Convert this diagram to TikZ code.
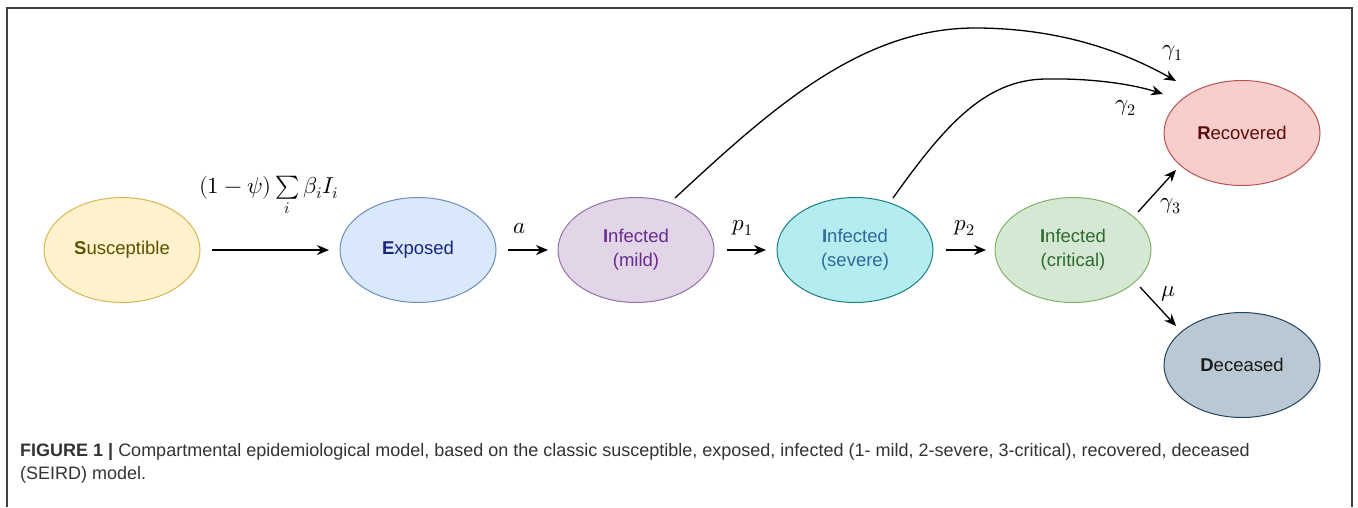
\documentclass[tikz,border=0pt]{standalone}
\usepackage{fontspec}
\setmainfont{Liberation Sans}
\usepackage{unicode-math}
\setmathfont{Latin Modern Math}
\usetikzlibrary{arrows.meta,shapes.geometric}
\definecolor{sfill}{HTML}{FFF2CC}\definecolor{sdraw}{HTML}{D6B656}\definecolor{stext}{HTML}{5C5000}
\definecolor{efill}{HTML}{DAE8FC}\definecolor{edraw}{HTML}{6C8EBF}\definecolor{etext}{HTML}{1A237E}
\definecolor{mfill}{HTML}{E1D5E7}\definecolor{mdraw}{HTML}{9673A6}\definecolor{mtext}{HTML}{6A2C91}
\definecolor{vfill}{HTML}{B4ECF0}\definecolor{vdraw}{HTML}{1A8088}\definecolor{vtext}{HTML}{2E6A9A}
\definecolor{cfill}{HTML}{D5E8D4}\definecolor{cdraw}{HTML}{82B366}\definecolor{ctext}{HTML}{2E6B30}
\definecolor{rfill}{HTML}{F8CECC}\definecolor{rdraw}{HTML}{B85450}\definecolor{rtext}{HTML}{5C0A0A}
\definecolor{dfill}{HTML}{BAC8D3}\definecolor{ddraw}{HTML}{23445D}\definecolor{dtext}{HTML}{1A1A1A}
\definecolor{captext}{HTML}{333333}
\tikzset{
  comp/.style={ellipse, minimum width=156pt, minimum height=105pt, inner sep=0pt, line width=1pt, align=center, font=\fontsize{18.5}{24}\selectfont},
  flow/.style={-{Stealth[length=12pt,width=10pt]}, line width=1.3pt, black},
  lab/.style={font=\fontsize{23}{26}\selectfont, inner sep=0pt},
  captxt/.style={anchor=west, inner sep=0pt, text=captext, font=\fontsize{18}{23}\selectfont},
}
\begin{document}
\begin{tikzpicture}[x=1pt,y=-1pt]
\useasboundingbox (0,0) rectangle (1358,507);
\fill[white] (0,0) rectangle (1358,507);
\draw[line width=1.2pt, black!75] (7,507) -- (7,8) -- (1352,8) -- (1352,507);

\node[comp, fill=sfill, draw=sdraw, text=stext] (S) at (122,250) {\textbf{S}usceptible};
\node[comp, fill=efill, draw=edraw, text=etext] (E) at (418,250) {\textbf{E}xposed};
\node[comp, fill=mfill, draw=mdraw, text=mtext] (I1) at (636,250) {\textbf{I}nfected\\(mild)};
\node[comp, fill=vfill, draw=vdraw, text=vtext] (I2) at (855,250) {\textbf{I}nfected\\(severe)};
\node[comp, fill=cfill, draw=cdraw, text=ctext] (I3) at (1073,250) {\textbf{I}nfected\\(critical)};
\node[comp, fill=rfill, draw=rdraw, text=rtext] (R) at (1242,133) {\textbf{R}ecovered};
\node[comp, fill=dfill, draw=ddraw, text=dtext] (D) at (1242,365) {\textbf{D}eceased};

\coordinate (se1) at (212,250); \coordinate (se2) at (329,250);
\coordinate (ei1) at (508,250); \coordinate (ei2) at (548,250);
\coordinate (mv1) at (727,250); \coordinate (mv2) at (766,250);
\coordinate (vc1) at (946,250); \coordinate (vc2) at (986,250);
\coordinate (m0) at (675,198); \coordinate (r1) at (1176,81);
\coordinate (v0) at (893,198); \coordinate (r2) at (1163,94);
\coordinate (c0) at (1138,212); \coordinate (r3) at (1176,170);
\coordinate (c1) at (1140,287); \coordinate (d1) at (1176,326);

\draw[flow] (se1) -- (se2);
\draw[flow] (ei1) -- (ei2);
\draw[flow] (mv1) -- (mv2);
\draw[flow] (vc1) -- (vc2);
\draw[flow] (m0) .. controls (770,110) and (860,28) .. (975,28) .. controls (1065,28) and (1130,55) .. (r1);
\draw[flow] (v0) .. controls (945,125) and (985,80) .. (1045,79) .. controls (1095,78) and (1135,85) .. (r2);
\draw[flow] (c0) -- (r3);
\draw[flow] (c1) -- (d1);

\node[lab] (lsum) at (269,196) {$(1-\psi)\sum\limits_{i}\beta_i I_i$};
\node[lab] (la) at (520,229) {$a$};
\node[lab] (lp1) at (743,228) {$p_1$};
\node[lab] (lp2) at (965,228) {$p_2$};
\node[lab] (lg1) at (1173,53) {$\gamma_1$};
\node[lab] (lg2) at (1126,108) {$\gamma_2$};
\node[lab] (lg3) at (1171,206) {$\gamma_3$};
\node[lab] (lmu) at (1168,294) {$\mu$};

\node[captxt] (cap1) at (20,452) {\textbf{FIGURE 1 |} Compartmental epidemiological model, based on the classic susceptible, exposed, infected (1- mild, 2-severe, 3-critical), recovered, deceased};
\node[captxt] (cap2) at (20,475) {(SEIRD) model.};
\end{tikzpicture}
\end{document}
